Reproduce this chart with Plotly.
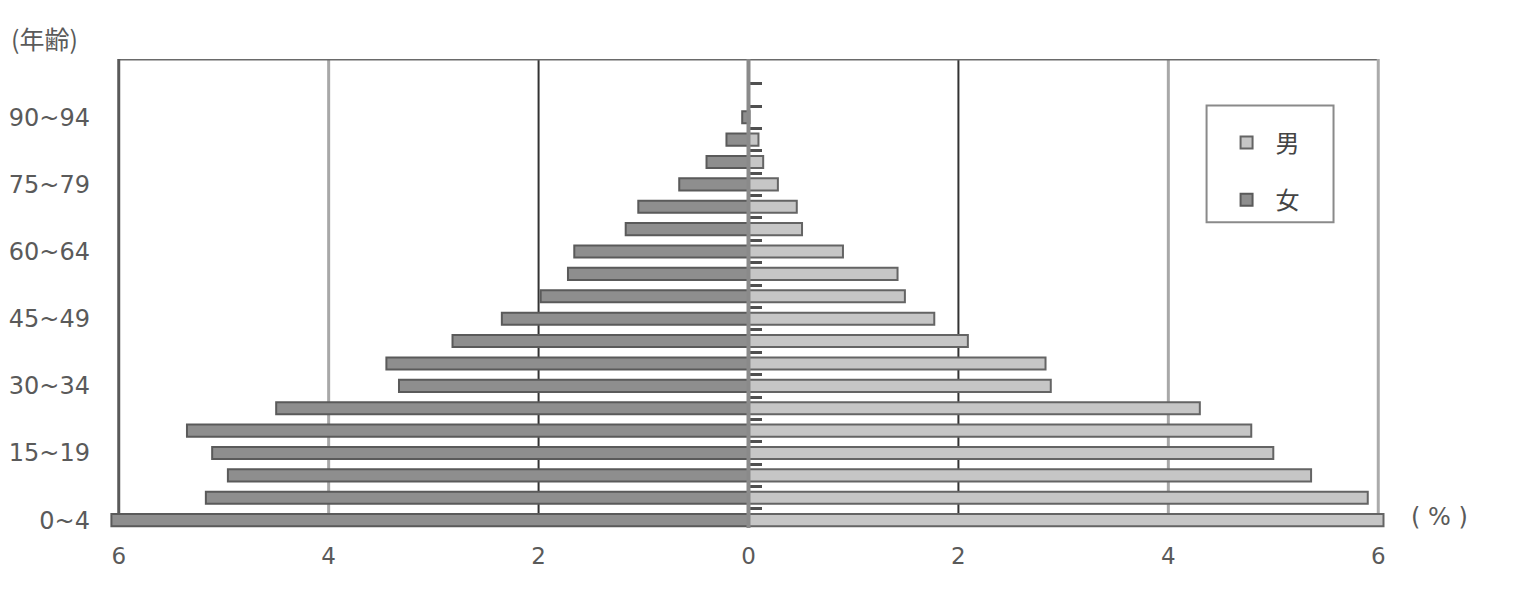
import plotly.graph_objects as go

age_groups = ["0~4", "5~9", "10~14", "15~19", "20~24", "25~29", "30~34", "35~39",
              "40~44", "45~49", "50~54", "55~59", "60~64", "65~69", "70~74", "75~79",
              "80~84", "85~89", "90~94", "95~99", "100~"]
male = [6.05, 5.90, 5.36, 5.00, 4.79, 4.30, 2.88, 2.83, 2.09, 1.77, 1.49, 1.42,
        0.90, 0.51, 0.46, 0.28, 0.14, 0.095, 0.01, 0, 0]
female = [6.07, 5.17, 4.96, 5.11, 5.35, 4.50, 3.33, 3.45, 2.82, 2.35, 1.98, 1.72,
          1.66, 1.17, 1.05, 0.66, 0.40, 0.21, 0.06, 0, 0]
x_tick_vals = [-6, -4, -2, 0, 2, 4, 6]
x_tick_text = ["6", "4", "2", "0", "2", "4", "6"]
y_label_every = 3

font_main = "DejaVu Sans, Arial, sans-serif"
font_cjk = "Noto Sans CJK JP"
txt = "#5a5a5a"

# page geometry (body has an 8px margin)
PAGE_OFF = 8
plot_left, plot_top = 103, 58.6
plot_w, plot_h = 1291.5, 469.2
fig_w, fig_h = 1515 - PAGE_OFF, 591 - PAGE_OFF


def px(xp):
    return (xp - plot_left) / plot_w


def py(yp):
    return (plot_top + plot_h - yp) / plot_h


fig = go.Figure()
fig.add_trace(go.Bar(
    y=age_groups, x=male, orientation="h", name="男", width=0.54, legendgroup="m",
    marker=dict(color="#c6c6c6", line=dict(color="#646464", width=2)),
))
fig.add_trace(go.Bar(
    y=age_groups, x=[-v for v in female], orientation="h", name="女", width=0.54,
    legendgroup="f",
    marker=dict(color="#8e8e8e", line=dict(color="#5a5a5a", width=2)),
))
# carrier for the centre tick axis
fig.add_trace(go.Scatter(x=[0], y=[0], yaxis="y2", mode="markers",
                         marker=dict(opacity=0), showlegend=False, hoverinfo="skip"))

y_top = 20.6
y_bot = -0.35
y_frame_bot = 0.25
shapes = []
for xv, col, w in [(-4, "#a8a8a8", 3), (4, "#a8a8a8", 3), (-2, "#333333", 2), (2, "#333333", 2)]:
    shapes.append(dict(type="line", xref="x", yref="y", x0=xv, x1=xv, y0=y_frame_bot, y1=y_top,
                       line=dict(color=col, width=w), layer="below"))
shapes.append(dict(type="line", xref="x", yref="y", x0=-6, x1=6, y0=y_top, y1=y_top,
                   line=dict(color="#6a6a6a", width=3), layer="below"))
shapes.append(dict(type="line", xref="x", yref="y", x0=-6, x1=-6, y0=y_frame_bot, y1=y_top,
                   line=dict(color="#5a5a5a", width=3), layer="below"))
shapes.append(dict(type="line", xref="x", yref="y", x0=6, x1=6, y0=y_frame_bot, y1=y_top,
                   line=dict(color="#ababab", width=3), layer="below"))
shapes.append(dict(type="line", xref="x", yref="y", x0=0, x1=0, y0=y_bot, y1=y_top,
                   line=dict(color="#8a8a8a", width=4), layer="above"))
# legend box
shapes.append(dict(type="rect", xref="paper", yref="paper",
                   x0=px(1207), x1=px(1334), y0=py(222), y1=py(105),
                   line=dict(color="#8a8a8a", width=2), fillcolor="white", layer="below"))

fig.update_layout(
    width=fig_w, height=fig_h,
    margin=dict(l=plot_left - PAGE_OFF, r=fig_w - (plot_left - PAGE_OFF) - plot_w,
                t=plot_top - PAGE_OFF, b=fig_h - (plot_top - PAGE_OFF) - plot_h),
    paper_bgcolor="white", plot_bgcolor="white",
    barmode="overlay",
    font=dict(family=font_main, color=txt, size=22),
    shapes=shapes,
    xaxis=dict(range=[-6.15, 6.15], tickmode="array", tickvals=x_tick_vals, ticktext=x_tick_text,
               showgrid=False, zeroline=False, showline=False, ticks="", ticklabelstandoff=12,
               automargin=False, tickfont=dict(size=23, color=txt, family=font_main)),
    yaxis=dict(type="category", categoryorder="array", categoryarray=age_groups,
               range=[y_bot, y_top], tickmode="array",
               tickvals=age_groups[::y_label_every], ticktext=age_groups[::y_label_every],
               showgrid=False, zeroline=False, showline=False, ticks="", ticklabelstandoff=12,
               automargin=False, tickfont=dict(size=24, color=txt, family=font_main)),
    yaxis2=dict(overlaying="y", anchor="free", position=0.5, side="right",
                range=[y_bot, y_top], tickmode="array",
                tickvals=[i + 0.5 for i in range(len(age_groups) - 1)],
                ticks="outside", ticklen=12, tickwidth=3, tickcolor="#505050",
                showticklabels=False, showgrid=False, zeroline=False, showline=False,
                automargin=False),
    legend=dict(x=px(1218), y=py(120), xanchor="left", yanchor="top",
                bgcolor="rgba(0,0,0,0)", borderwidth=0,
                font=dict(family=font_cjk, size=24, color="#444444"),
                tracegroupgap=23, itemwidth=48, traceorder="grouped"),
    bargap=0.45,
    annotations=[
        dict(text="(年齢)", xref="paper", yref="paper", x=px(9), y=py(38),
             xanchor="left", yanchor="middle", showarrow=False,
             font=dict(family=font_cjk, size=25, color=txt)),
        dict(text="( % )", xref="paper", yref="paper", x=px(1440), y=py(517),
             xanchor="center", yanchor="middle", showarrow=False,
             font=dict(family=font_main, size=24, color=txt)),
    ],
)
fig.write_html("out.html")
